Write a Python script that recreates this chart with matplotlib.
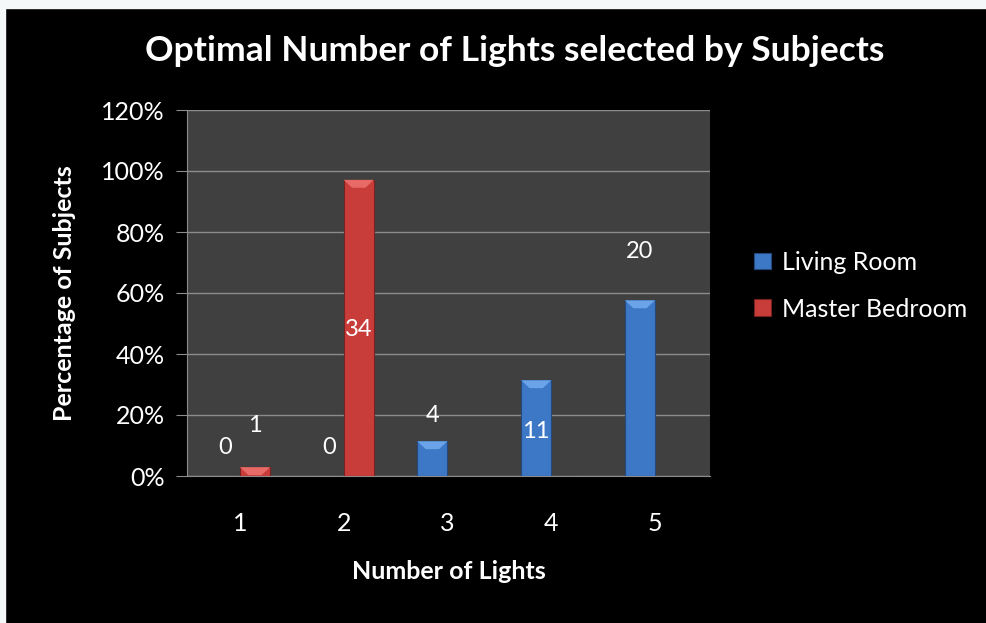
import matplotlib.pyplot as plt
import matplotlib.patches as mpatches
import numpy as np

# datos
categorias = ['1', '2', '3', '4', '5']
living_pct = [0, 0, 11.4, 31.4, 57.6]
bedroom_pct = [2.9, 97.1, 0, 0, 0]
living_cnt = ['0', '0', '4', '11', '20']
bedroom_cnt = ['1', '34', '', '', '']
# altura (en %) donde aparece cada etiqueta
living_lbl_y = [9.5, 9.5, 20.0, 14.5, 73.5]
bedroom_lbl_y = [16.7, 47.9, 0, 0, 0]

plt.rcParams['font.family'] = ['Lato', 'DejaVu Sans']

fig = plt.figure(figsize=(9.87, 6.23), dpi=100, facecolor='black')
# marco blanco arriba / izquierda
fig.patches.append(mpatches.Rectangle((0, 1 - 8 / 623), 1, 8 / 623, transform=fig.transFigure,
                                      color='#f4f8f8', zorder=-1))
fig.patches.append(mpatches.Rectangle((0, 0), 5 / 987, 1, transform=fig.transFigure,
                                      color='#f4f8f8', zorder=-1))

ax = fig.add_axes([187 / 987, (623 - 476) / 623, 523 / 987, 366 / 623])
ax.set_facecolor('#404040')

x = np.arange(1, 6)
w = 0.29
azul = '#3d78c6'
rojo = '#c83c3a'

b1 = ax.bar(x - w / 2, living_pct, w, color=azul, edgecolor='#24497a', linewidth=0.8, zorder=3,
            label='Living Room')
b2 = ax.bar(x + w / 2, bedroom_pct, w, color=rojo, edgecolor='#7a2220', linewidth=0.8, zorder=3,
            label='Master Bedroom')

# efecto bisel en la parte superior
for barras, claro in [(b1, '#6aa3e8'), (b2, '#e86a66')]:
    for p in barras:
        h = p.get_height()
        if h <= 0:
            continue
        x0 = p.get_x()
        bw = p.get_width()
        bv = min(2.6, h)
        tri = mpatches.Polygon([(x0, h), (x0 + bw, h), (x0 + bw * 0.72, h - bv), (x0 + bw * 0.28, h - bv)],
                               closed=True, color=claro, zorder=4, linewidth=0)
        ax.add_patch(tri)

for xi, t, yy in zip(x - w / 2, living_cnt, living_lbl_y):
    ax.text(xi, yy, t, color='white', ha='center', va='center', fontsize=17, zorder=5)
for xi, t, yy in zip(x + w / 2, bedroom_cnt, bedroom_lbl_y):
    if t:
        ax.text(xi, yy, t, color='white', ha='center', va='center', fontsize=17, zorder=5)

ax.set_xlim(0.49, 5.53)
ax.set_ylim(0, 120)
ax.set_yticks(range(0, 121, 20))
ax.set_yticklabels([f'{v}%' for v in range(0, 121, 20)])
ax.set_xticks(x)
ax.set_xticklabels(categorias)
ax.grid(axis='y', color='#8c8c8c', linewidth=1, zorder=0)
ax.set_axisbelow(True)

for s in ['top', 'right']:
    ax.spines[s].set_visible(False)
for s in ['left', 'bottom']:
    ax.spines[s].set_color('#8c8c8c')
ax.tick_params(axis='y', colors='#8c8c8c', labelcolor='white', labelsize=18, length=8, pad=8)
ax.tick_params(axis='x', length=0, labelcolor='white', labelsize=18, pad=26)

ax.set_xlabel('Number of Lights', color='white', fontsize=18, fontweight='bold', labelpad=18)
ax.set_ylabel('Percentage of Subjects', color='white', fontsize=18, fontweight='bold', labelpad=18)

fig.text(515 / 987, 1 - 51 / 623, 'Optimal Number of Lights selected by Subjects', color='white',
         fontsize=25.5, fontweight='bold', ha='center', va='center')

leg = ax.legend(loc='center left', bbox_to_anchor=(1.085, 0.52), frameon=False, fontsize=18,
                labelcolor='white', handlelength=0.65, handleheight=0.65, labelspacing=0.95,
                handletextpad=0.45, borderpad=0, borderaxespad=0)

fig.savefig('out.png', dpi=100, facecolor='black')
